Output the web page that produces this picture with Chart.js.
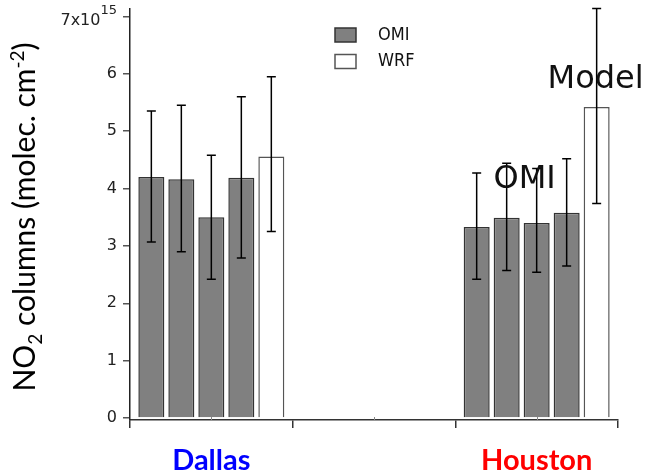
<!DOCTYPE html>
<html>
<head>
<meta charset="utf-8">
<script src="https://cdn.jsdelivr.net/npm/chart.js@4"></script>
<style>
  html, body { margin: 0; padding: 0; background: #fff; }
  canvas { display: block; }
</style>
</head>
<body>
<canvas id="chart" width="645" height="474"></canvas>
<script>
const SITES = ['Dallas', '', 'Houston'];
const SITE_COLORS = ['#0000ff', '#000000', '#ff0000'];
const Y_TICKS = [0, 1, 2, 3, 4, 5, 6, 7];

// four OMI retrievals + WRF model, x10^15 molec/cm2
const OMI_1 = [4.20, null, 3.33];
const OMI_2 = [4.16, null, 3.49];
const OMI_3 = [3.50, null, 3.40];
const OMI_4 = [4.19, null, 3.58];
const WRF = [4.56, null, 5.42];

const OMI_1_LOW = [3.07, null, 2.42];
const OMI_1_HIGH = [5.35, null, 4.27];
const OMI_2_LOW = [2.90, null, 2.57];
const OMI_2_HIGH = [5.45, null, 4.44];
const OMI_3_LOW = [2.42, null, 2.54];
const OMI_3_HIGH = [4.58, null, 4.35];
const OMI_4_LOW = [2.79, null, 2.65];
const OMI_4_HIGH = [5.60, null, 4.52];
const WRF_LOW = [3.25, null, 3.74];
const WRF_HIGH = [5.95, null, 7.14];

const LOWS = [OMI_1_LOW, OMI_2_LOW, OMI_3_LOW, OMI_4_LOW, WRF_LOW];
const HIGHS = [OMI_1_HIGH, OMI_2_HIGH, OMI_3_HIGH, OMI_4_HIGH, WRF_HIGH];

const OMI_FILL = '#808080';
const OMI_EDGE = '#333333';
const WRF_FILL = '#ffffff';
const WRF_EDGE = '#555555';

const NOTE_FONT = '32px "DejaVu Sans"';

function omi(data) {
  return {
    label: 'OMI',
    data,
    backgroundColor: OMI_FILL,
    borderColor: OMI_EDGE,
    borderWidth: 1.5,
  };
}

const decor = {
  id: 'decor',
  afterDatasetsDraw(chart) {
    const { ctx } = chart;
    const y = chart.scales.y;
    ctx.save();
    ctx.strokeStyle = '#000';
    ctx.lineWidth = 1.5;
    chart.data.datasets.forEach((ds, i) => {
      const meta = chart.getDatasetMeta(i);
      meta.data.forEach((bar, j) => {
        if (ds.data[j] == null) return;
        const yl = y.getPixelForValue(LOWS[i][j]);
        const yh = y.getPixelForValue(HIGHS[i][j]);
        ctx.beginPath();
        ctx.moveTo(bar.x, yl);
        ctx.lineTo(bar.x, yh);
        ctx.moveTo(bar.x - 4.5, yl);
        ctx.lineTo(bar.x + 4.5, yl);
        ctx.moveTo(bar.x - 4.5, yh);
        ctx.lineTo(bar.x + 4.5, yh);
        ctx.stroke();
      });
    });
    ctx.restore();
  },
  afterDraw(chart) {
    const { ctx } = chart;
    const x = chart.scales.x;
    const y = chart.scales.y;
    ctx.save();

    // small upward ticks at category centres
    ctx.strokeStyle = '#888';
    ctx.lineWidth = 1;
    SITES.forEach((s, i) => {
      const px = Math.round(x.getPixelForValue(i)) + 0.5;
      ctx.beginPath();
      ctx.moveTo(px, x.top);
      ctx.lineTo(px, x.top - 3);
      ctx.stroke();
    });

    // top tick label 7x10^15
    const ty = y.getPixelForValue(7);
    const right = y.right - 7 - 6;
    ctx.fillStyle = '#222';
    ctx.textAlign = 'right';
    ctx.textBaseline = 'middle';
    ctx.font = '13px "DejaVu Sans"';
    const w15 = ctx.measureText('15').width;
    ctx.fillText('15', right, ty - 6);
    ctx.font = '16px "DejaVu Sans"';
    ctx.fillText('7x10', right - w15, ty + 4);

    // legend
    const items = [
      { text: 'OMI', fill: OMI_FILL, edge: OMI_EDGE },
      { text: 'WRF', fill: WRF_FILL, edge: WRF_EDGE },
    ];
    ctx.font = '18px "DejaVu Sans Condensed", "DejaVu Sans"';
    ctx.textAlign = 'left';
    items.forEach((it, k) => {
      const top = 28 + k * 26.5;
      ctx.fillStyle = it.fill;
      ctx.fillRect(335, top, 21, 14);
      ctx.strokeStyle = it.edge;
      ctx.lineWidth = 1.5;
      ctx.strokeRect(335, top, 21, 14);
      ctx.fillStyle = '#111';
      ctx.fillText(it.text, 378, top + 7);
    });

    // annotations
    const b2 = chart.getDatasetMeta(1).data[2];
    const b3 = chart.getDatasetMeta(2).data[2];
    const bw = chart.getDatasetMeta(4).data[2];
    ctx.font = NOTE_FONT;
    ctx.textAlign = 'center';
    ctx.fillStyle = '#111';
    ctx.fillText('OMI', (b2.x + b3.x) / 2 + 3, y.getPixelForValue(4.15));
    ctx.fillText('Model', bw.x - 1, y.getPixelForValue(5.89));

    // y axis title with sub/superscript
    const big = '30px Lato';
    const small = '19px Lato';
    const parts = [
      { t: 'NO', f: big, dy: 0 },
      { t: '2', f: small, dy: 7 },
      { t: ' columns (molec. cm', f: big, dy: 0 },
      { t: '-2', f: small, dy: -11 },
      { t: ')', f: big, dy: 0 },
    ];
    let total = 0;
    parts.forEach((p) => {
      ctx.font = p.f;
      p.w = ctx.measureText(p.t).width;
      total += p.w;
    });
    ctx.translate(35, 217);
    ctx.rotate(-Math.PI / 2);
    ctx.textAlign = 'left';
    ctx.textBaseline = 'alphabetic';
    ctx.fillStyle = '#000';
    let cx = -total / 2;
    parts.forEach((p) => {
      ctx.font = p.f;
      ctx.fillText(p.t, cx, p.dy);
      cx += p.w;
    });
    ctx.restore();
  },
};

new Chart(document.getElementById('chart'), {
  type: 'bar',
  data: {
    labels: SITES,
    datasets: [
      omi(OMI_1),
      omi(OMI_2),
      omi(OMI_3),
      omi(OMI_4),
      {
        label: 'WRF',
        data: WRF,
        backgroundColor: WRF_FILL,
        borderColor: WRF_EDGE,
        borderWidth: 1.5,
      },
    ],
  },
  options: {
    responsive: false,
    animation: false,
    events: [],
    categoryPercentage: 0.922,
    barPercentage: 0.867,
    layout: { padding: { top: 0, right: 27, left: 0, bottom: 0 } },
    plugins: {
      legend: { display: false },
      tooltip: { enabled: false },
    },
    scales: {
      x: {
        afterFit(scale) { scale.height = 54; },
        grid: {
          offset: true,
          drawOnChartArea: false,
          drawTicks: true,
          tickLength: 8,
          color: '#333',
          lineWidth: 1.5,
        },
        border: { display: true, color: '#333', width: 1.5 },
        ticks: {
          padding: 15,
          color: (c) => SITE_COLORS[c.index],
          font: { family: 'Lato', size: 29, weight: 'bold' },
        },
      },
      y: {
        min: -0.035,
        max: 7.13,
        afterFit(scale) {
          scale.width = 130;
          scale.paddingTop = 9;
        },
        afterBuildTicks(scale) {
          scale.ticks = Y_TICKS.map((v) => ({ value: v }));
        },
        grid: {
          drawOnChartArea: false,
          drawTicks: true,
          tickLength: 7,
          color: '#555',
          lineWidth: 1.5,
        },
        border: { display: true, color: '#222', width: 1.5 },
        ticks: {
          padding: 6,
          color: '#222',
          font: { family: 'DejaVu Sans', size: 16 },
          callback: (v) => (v === 7 ? '' : String(v)),
        },
      },
    },
  },
  plugins: [decor],
});
</script>
</body>
</html>
